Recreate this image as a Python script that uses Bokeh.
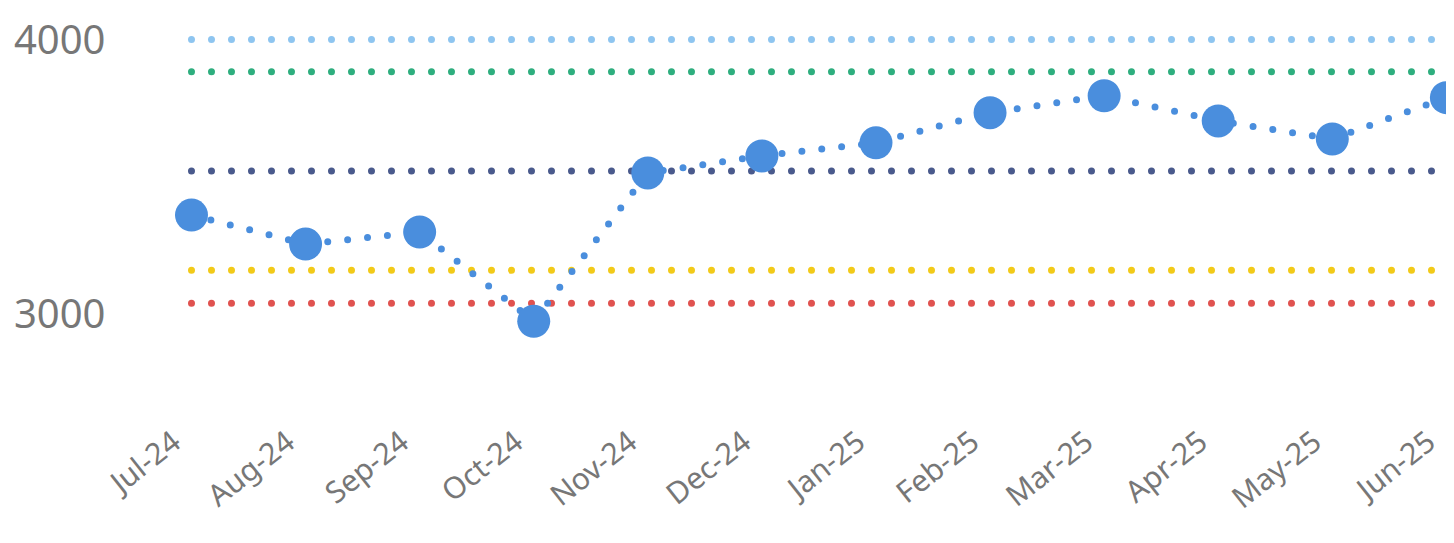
from bokeh.plotting import figure
from bokeh.models import FixedTicker, Range1d
from bokeh.embed import file_html
from bokeh.resources import INLINE

# ---- data ----
months = ["Jul-24", "Aug-24", "Sep-24", "Oct-24", "Nov-24", "Dec-24",
          "Jan-25", "Feb-25", "Mar-25", "Apr-25", "May-25", "Jun-25"]
values = [3359, 3253, 3297, 2971, 3513, 3575, 3623, 3733, 3795, 3703, 3637, 3788]
ref_levels = [4000, 3883, 3520, 3157, 3037]
y_ticks = [3000, 4000]

# ---- styles ----
ref_colors = ["#8EC5F0", "#2EAE7E", "#4A5A8C", "#F2CA19", "#E0524F"]
main_color = "#4A8EDD"
label_color = "#777777"
font = "Noto Sans"

xs = list(range(len(months)))

W, H = 1446, 535
frame_left = 120
frame_right = W
px_per_unit = (frame_right - 191) / 11.0
x_start = (frame_left - 191) / px_per_unit
x_end = 11.001
px_per_val = 273 / 1000.0
frame_bottom = 382  # frame bottom (px) given the label standoff below
y_end = 4000 + 39 / px_per_val
y_start = 4000 - (frame_bottom - 39) / px_per_val

label_shift = 0.14  # nudge rotated labels left of their points
label_pos = [round(i - label_shift, 2) for i in xs]

p = figure(width=W, height=H, output_backend="svg", toolbar_location=None,
           x_range=Range1d(x_start, x_end), y_range=Range1d(y_start, y_end))
p.min_border_left = frame_left
p.min_border_right = 0
p.min_border_top = 0
p.min_border_bottom = 0
p.outline_line_color = None
p.xgrid.visible = False
p.ygrid.visible = False
p.background_fill_color = "white"
p.border_fill_color = "white"

for lvl, col in zip(ref_levels, ref_colors):
    p.line(xs, [lvl] * len(xs), line_color=col, line_width=7,
           line_dash="0 20", line_cap="round")

p.line(xs, values, line_color=main_color, line_width=7,
       line_dash="0 20", line_cap="round")
p.scatter(xs, values, size=33, fill_color=main_color, line_color=main_color, line_width=0)

# axes
p.yaxis.ticker = FixedTicker(ticks=y_ticks)
p.yaxis.axis_line_color = None
p.yaxis.major_tick_line_color = None
p.yaxis.minor_tick_line_color = None
p.yaxis.major_tick_out = 0
p.yaxis.major_tick_in = 0
p.yaxis.major_label_text_font = font
p.yaxis.major_label_text_font_size = "40px"
p.yaxis.major_label_text_color = label_color
p.yaxis.major_label_standoff = 15

p.xaxis.ticker = FixedTicker(ticks=label_pos)
p.xaxis.major_label_overrides = {pos: m for pos, m in zip(label_pos, months)}
p.xaxis.axis_line_color = None
p.xaxis.major_tick_line_color = None
p.xaxis.minor_tick_line_color = None
p.xaxis.major_tick_out = 0
p.xaxis.major_tick_in = 0
p.xaxis.major_label_text_font = font
p.xaxis.major_label_text_font_size = "30px"
p.xaxis.major_label_text_line_height = 1.0
p.xaxis.major_label_text_color = label_color
p.xaxis.major_label_orientation = 0.67
p.xaxis.major_label_standoff = 53

open("out.html", "w").write(file_html(p, INLINE))
